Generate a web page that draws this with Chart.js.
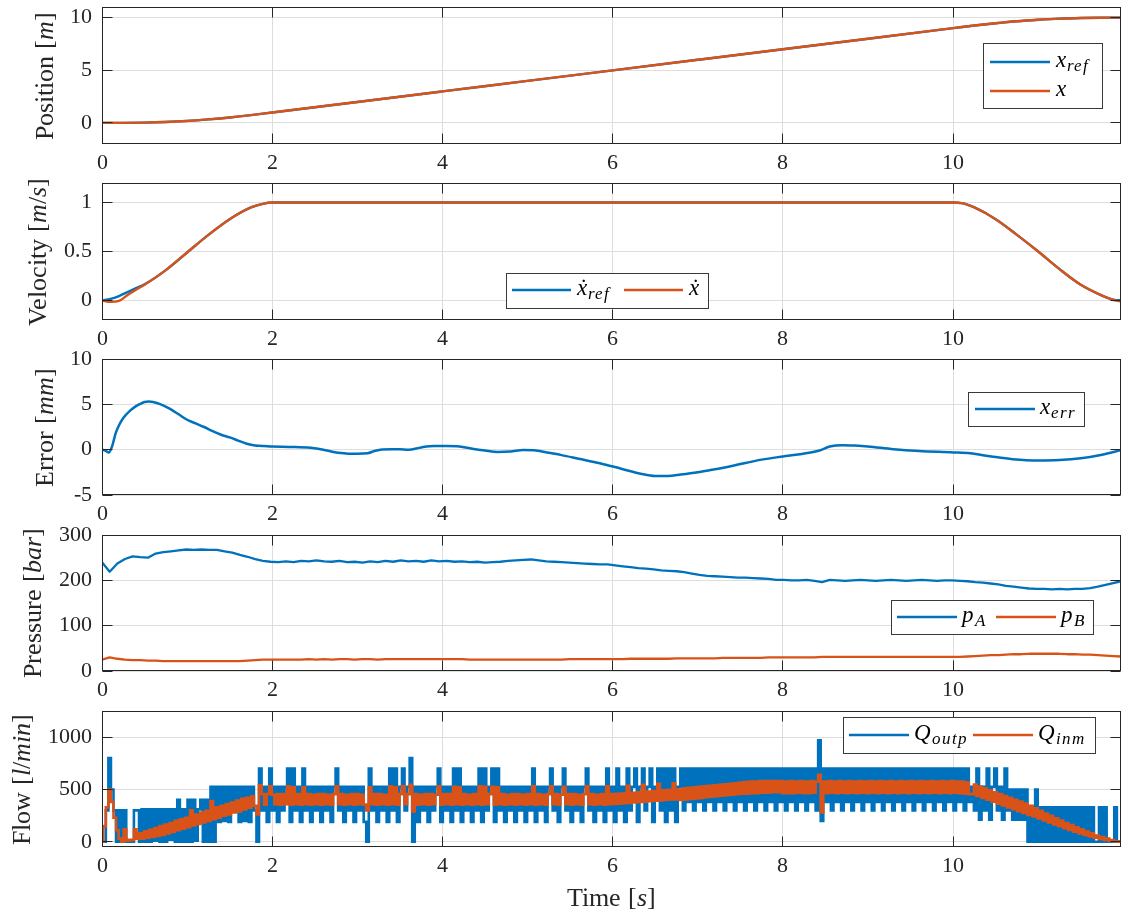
<!DOCTYPE html>
<html>
<head>
<meta charset="utf-8">
<title>Trajectory tracking: position, velocity, error, pressure, flow</title>
<script src="https://cdn.jsdelivr.net/npm/chart.js@4.4.1/dist/chart.umd.min.js"></script>
<style>
  @font-face { font-family: 'PlotSerif'; font-style: normal; font-weight: 400;
    src: local('Liberation Serif'), local('LiberationSerif'), local('Liberation Serif Regular'); }
  @font-face { font-family: 'PlotSerif'; font-style: italic; font-weight: 400;
    src: local('Liberation Serif Italic'), local('LiberationSerif-Italic'); }
  html, body { margin: 0; padding: 0; background: #ffffff; }
  #wrap { position: relative; width: 1122px; height: 915px; overflow: hidden; background: #ffffff;
          font-family: 'PlotSerif', 'Liberation Serif', serif; }
  #wrap canvas { position: absolute; left: 0; top: 0; }
  .warm { position: absolute; left: -1000px; top: 0; font-size: 22px; }
</style>
</head>
<body>
<div id="wrap">
  <span class="warm">0123456789 Position</span><span class="warm"><i>xrefQ</i></span>
  <canvas id="cPos" width="1122" height="915"></canvas>
  <canvas id="cVel" width="1122" height="915"></canvas>
  <canvas id="cErr" width="1122" height="915"></canvas>
  <canvas id="cPres" width="1122" height="915"></canvas>
  <canvas id="cFlow" width="1122" height="915"></canvas>
</div>
<script>
// ---------------- data ----------------
const tEnd = 11.97;                       // last sample time [s]
const xTicks = [0, 2, 4, 6, 8, 10];

// Position [m]
const tPos    = [0, 0.25, 0.5, 0.75, 1, 1.25, 1.5, 1.75, 2, 3, 4, 5, 6, 7, 8, 9, 10, 10.25, 10.5, 10.75, 11, 11.25, 11.5, 11.75, 11.97];
const posRef  = [0, 0.005, 0.03, 0.09, 0.19, 0.34, 0.52, 0.74, 0.99, 1.99, 2.99, 3.99, 4.99, 5.99, 6.99, 7.99, 8.99, 9.24, 9.46, 9.65, 9.79, 9.90, 9.96, 9.985, 9.99];
const posMeas = [0, 0.004, 0.027, 0.086, 0.186, 0.337, 0.518, 0.739, 0.99, 1.99, 2.99, 3.99, 4.99, 5.99, 6.99, 7.99, 8.99, 9.24, 9.46, 9.65, 9.79, 9.90, 9.96, 9.985, 9.99];
const posTicks = [0, 5, 10];

// Velocity [m/s]
const tVel    = [0, 0.1, 0.2, 0.3, 0.4, 0.5, 0.75, 1.0, 1.25, 1.5, 1.75, 1.9, 2.0, 4.0, 6.0, 8.0, 10.0, 10.1, 10.25, 10.5, 10.75, 11.0, 11.25, 11.5, 11.75, 11.9, 11.97];
const velRef  = [0, 0.015, 0.045, 0.085, 0.125, 0.165, 0.31, 0.49, 0.67, 0.83, 0.95, 0.99, 1, 1, 1, 1, 1, 0.995, 0.95, 0.83, 0.67, 0.5, 0.32, 0.16, 0.05, 0.005, 0];
const velMeas = [0, -0.015, -0.005, 0.055, 0.11, 0.16, 0.31, 0.49, 0.67, 0.83, 0.95, 0.99, 1, 1, 1, 1, 1, 0.995, 0.95, 0.83, 0.67, 0.5, 0.32, 0.16, 0.05, 0.0, -0.01];
const velTicks = [0, 0.5, 1];

// Tracking error [mm]
const tErr   = [0, 0.04, 0.08, 0.12, 0.16, 0.2, 0.25, 0.33, 0.4, 0.45, 0.5, 0.55, 0.6, 0.69, 0.8, 0.9, 1.0, 1.1, 1.2, 1.3,
                1.4, 1.5, 1.6, 1.7, 1.8, 1.85, 1.9, 2.0, 2.2, 2.45, 2.6, 2.72, 2.85, 2.92, 3.0, 3.12, 3.2, 3.27, 3.4, 3.5,
                3.6, 3.75, 3.9, 4.05, 4.2, 4.35, 4.5, 4.65, 4.8, 4.95, 5.1, 5.25, 5.4, 5.6, 5.85, 6.1, 6.33, 6.5, 6.65, 6.8,
                7.0, 7.15, 7.4, 7.75, 8.0, 8.2, 8.43, 8.55, 8.7, 8.85, 9.0, 9.3, 9.6, 10.0, 10.2, 10.45, 10.7, 11.0, 11.25, 11.5,
                11.75, 11.97];
const errVal = [0, -0.1, -0.3, 0.4, 1.8, 2.7, 3.5, 4.3, 4.8, 5.05, 5.25, 5.3, 5.25, 5.0, 4.5, 3.9, 3.3, 2.9, 2.5, 2.05,
                1.65, 1.35, 1.0, 0.65, 0.45, 0.42, 0.4, 0.35, 0.3, 0.2, 0.0, -0.25, -0.4, -0.45, -0.45, -0.4, -0.15, 0.0, 0.05, 0.05,
                0.0, 0.25, 0.4, 0.4, 0.35, 0.1, -0.1, -0.25, -0.2, -0.05, -0.1, -0.35, -0.6, -1.0, -1.5, -2.1, -2.65, -2.9, -2.9, -2.75,
                -2.5, -2.25, -1.8, -1.1, -0.75, -0.5, -0.1, 0.35, 0.5, 0.45, 0.35, 0.05, -0.15, -0.3, -0.4, -0.75, -1.05, -1.2, -1.15, -0.95,
                -0.55, -0.05];
const errTicks = [-5, 0, 5, 10];

// Chamber pressures [bar], sampled every presDt seconds
const presDt = 0.09;
const pA = [240, 219, 237, 247, 253, 251, 250, 259, 262, 264,
            266, 268, 267, 268, 267, 267, 264, 261, 256, 252,
            247, 243, 241, 240, 242, 240, 243, 242, 244, 242,
            241, 243, 240, 241, 239, 242, 240, 243, 241, 244,
            242, 243, 241, 244, 242, 243, 241, 242, 240, 241,
            239, 240, 241, 243, 244, 245, 246, 244, 242, 241,
            240, 239, 238, 237, 236, 235, 235, 233, 231, 229,
            227, 226, 224, 222, 221, 220, 218, 215, 212, 210,
            209, 208, 207, 206, 206, 205, 204, 203, 201, 201,
            200, 200, 201, 199, 196, 201, 200, 199, 200, 201,
            200, 199, 200, 201, 200, 199, 200, 201, 200, 199,
            200, 200, 199, 198, 196, 195, 193, 191, 188, 186,
            184, 182, 181, 181, 180, 181, 180, 181, 181, 183,
            186, 190, 194, 198];
const pB = [25, 30, 27, 25, 24, 24, 23, 23, 22, 22,
            22, 22, 22, 22, 22, 22, 22, 22, 22, 23,
            24, 25, 25, 25, 25, 25, 25, 26, 25, 26,
            25, 26, 26, 25, 26, 26, 25, 26, 26, 26,
            26, 26, 26, 26, 26, 26, 26, 26, 25, 25,
            25, 25, 25, 25, 25, 25, 25, 25, 25, 25,
            25, 26, 26, 26, 26, 26, 26, 26, 26, 27,
            27, 27, 27, 27, 27, 28, 28, 28, 28, 28,
            28, 29, 29, 29, 29, 29, 29, 30, 30, 30,
            30, 30, 30, 30, 31, 31, 31, 31, 31, 31,
            31, 31, 31, 31, 31, 31, 31, 31, 31, 31,
            31, 31, 31, 32, 33, 34, 35, 35, 36, 37,
            37, 38, 38, 38, 38, 38, 37, 37, 36, 36,
            35, 34, 33, 32];
const presTicks = [0, 100, 200, 300];

// Valve flows [l/min], sampled every flowDt seconds
const flowDt = 0.03;
const qOutp = [
  0, 0, 300, 800, 500, 300, 0, 300, 0, 300,
  0, 0, 0, 300, 300, 0, 310, 0, 310, 0,
  310, 10, 310, 0, 310, 0, 310, 20, 310, 0,
  400, 0, 310, 0, 400, 0, 400, 10, 310, 400,
  0, 400, 0, 525, 0, 525, 190, 525, 200, 525,
  190, 525, 300, 525, 190, 525, 200, 525, 190, 525,
  300, 0, 700, 300, 525, 190, 700, 300, 525, 190,
  525, 300, 525, 700, 190, 700, 300, 525, 190, 700,
  300, 525, 190, 525, 300, 525, 190, 525, 300, 525,
  190, 525, 700, 300, 525, 190, 525, 300, 525, 190,
  525, 300, 525, 190, 0, 700, 300, 525, 190, 525,
  300, 525, 190, 700, 300, 700, 190, 525, 700, 300,
  525, 800, 0, 525, 190, 525, 300, 525, 190, 525,
  300, 525, 700, 190, 525, 300, 525, 190, 700, 300,
  700, 190, 525, 300, 525, 190, 525, 300, 700, 190,
  700, 300, 525, 700, 190, 700, 300, 525, 190, 525,
  300, 525, 190, 525, 300, 525, 190, 525, 300, 700,
  190, 525, 300, 525, 190, 525, 700, 300, 525, 190,
  525, 700, 300, 525, 190, 525, 300, 525, 190, 525,
  700, 300, 525, 190, 525, 300, 525, 190, 700, 300,
  525, 190, 700, 300, 525, 190, 700, 300, 525, 700,
  190, 525, 700, 300, 525, 700, 190, 525, 700, 300,
  700, 190, 700, 300, 700, 190, 525, 700, 300, 700,
  380, 700, 300, 700, 380, 700, 300, 700, 380, 700,
  300, 700, 380, 700, 300, 700, 380, 700, 300, 700,
  380, 700, 300, 700, 380, 700, 300, 700, 380, 700,
  300, 700, 380, 700, 300, 700, 380, 700, 300, 700,
  380, 700, 300, 700, 380, 700, 300, 700, 380, 700,
  300, 970, 200, 700, 380, 700, 300, 700, 380, 700,
  300, 700, 380, 700, 300, 700, 380, 700, 300, 700,
  380, 700, 300, 700, 380, 700, 300, 700, 380, 700,
  300, 700, 380, 700, 300, 700, 380, 700, 300, 700,
  380, 700, 300, 700, 380, 700, 300, 700, 380, 700,
  300, 700, 380, 700, 300, 700, 380, 700, 300, 700,
  380, 525, 300, 700, 210, 525, 300, 700, 210, 525,
  700, 300, 525, 210, 700, 300, 500, 210, 500, 210,
  500, 210, 500, 0, 330, 0, 500, 0, 330, 0,
  330, 0, 330, 0, 330, 0, 330, 0, 330, 0,
  330, 0, 330, 0, 330, 0, 330, 0, 330, 0,
  0, 330, 0, 330, 0, 0, 0, 330, 0, 0];
const qInm = [
  0, 150, 330, 500, 380, 230, 110, 30, 0, 120,
  10, 20, 15, 120, 30, 80, 30, 100, 40, 115,
  45, 130, 55, 150, 65, 165, 80, 180, 95, 200,
  110, 215, 125, 230, 140, 300, 155, 260, 170, 280,
  185, 295, 200, 390, 215, 330, 230, 345, 250, 360,
  260, 375, 280, 395, 290, 410, 310, 420, 325, 435,
  345, 260, 540, 455, 355, 455, 530, 450, 360, 455,
  355, 455, 360, 530, 355, 520, 360, 455, 355, 520,
  360, 455, 355, 450, 360, 455, 355, 455, 360, 450,
  355, 455, 530, 360, 455, 355, 450, 360, 455, 355,
  455, 360, 450, 355, 300, 520, 360, 455, 355, 455,
  360, 450, 355, 530, 360, 520, 355, 455, 530, 360,
  455, 545, 290, 455, 355, 450, 360, 455, 355, 455,
  360, 450, 530, 355, 455, 360, 455, 355, 525, 360,
  520, 355, 455, 360, 450, 355, 455, 360, 530, 355,
  525, 360, 455, 525, 355, 520, 360, 455, 355, 450,
  360, 455, 355, 455, 360, 450, 355, 455, 360, 530,
  355, 455, 360, 450, 355, 455, 530, 360, 455, 355,
  450, 525, 360, 455, 355, 455, 360, 450, 355, 455,
  530, 360, 455, 355, 450, 360, 455, 355, 530, 360,
  455, 362, 458, 365, 460, 368, 535, 372, 468, 376,
  472, 380, 545, 384, 480, 388, 484, 392, 555, 396,
  492, 400, 496, 404, 560, 405, 500, 400, 510, 405,
  515, 410, 520, 415, 525, 420, 530, 425, 535, 430,
  540, 435, 545, 440, 550, 445, 555, 450, 560, 455,
  565, 460, 570, 460, 575, 465, 575, 465, 580, 470,
  580, 470, 580, 475, 580, 475, 580, 465, 575, 465,
  580, 465, 575, 470, 580, 465, 575, 465, 580, 470,
  575, 640, 280, 575, 465, 580, 470, 575, 465, 580,
  470, 575, 465, 580, 470, 575, 465, 580, 470, 575,
  465, 580, 470, 575, 465, 580, 470, 575, 465, 580,
  470, 575, 465, 580, 470, 575, 465, 580, 470, 575,
  465, 580, 470, 575, 465, 580, 470, 575, 465, 580,
  470, 575, 465, 580, 470, 575, 465, 575, 460, 565,
  455, 455, 546, 437, 528, 419, 510, 401, 492, 383,
  474, 365, 456, 347, 438, 329, 420, 311, 402, 293,
  384, 275, 366, 257, 343, 242, 320, 223, 295, 203,
  270, 185, 248, 166, 225, 148, 203, 130, 180, 114,
  159, 97, 138, 80, 118, 65, 98, 51, 80, 38,
  60, 27, 45, 17, 30, 8, 17, 2, 5, 0];
const flowTicks = [0, 500, 1000];

// ---------------- styling ----------------
const FONT = "PlotSerif, 'Liberation Serif', 'DejaVu Serif', serif";
const INK = '#262626';
const GRID = '#dedede';
const BLUE = '#0072BD';
const ORANGE = '#D95319';
const CANVAS_H = 915;
const X_AXIS_H = 40;

Chart.defaults.font.family = FONT;
Chart.defaults.color = INK;

function pts(ts, vs) { return vs.map((v, i) => ({ x: ts[i], y: v })); }
function sampled(dt, vs) { return vs.map((v, i) => ({ x: Math.round(i * dt * 1000) / 1000, y: v })); }

// rich text runs: [{t, it, size, dy, ls, gap}]
function setFont(ctx, size, italic) { ctx.font = (italic ? 'italic ' : '') + size + 'px ' + FONT; }
function runWidth(ctx, parts) {
  let w = 0;
  for (const p of parts) {
    setFont(ctx, p.size, p.it);
    ctx.letterSpacing = (p.ls || 0) + 'px';
    w += ctx.measureText(p.t).width + (p.gap || 0);
  }
  ctx.letterSpacing = '0px';
  return w;
}
function drawRun(ctx, parts, x, y) {
  let cx = x;
  for (const p of parts) {
    setFont(ctx, p.size, p.it);
    ctx.letterSpacing = (p.ls || 0) + 'px';
    ctx.fillText(p.t, cx, y + (p.dy || 0));
    cx += ctx.measureText(p.t).width + (p.gap || 0);
  }
  ctx.letterSpacing = '0px';
  return cx - x;
}
const LBL = 26;
function axisTitle(...segs) {
  // odd-indexed pieces are math italic
  return segs.map((s, i) => ({ t: s, it: i % 2 === 1, size: LBL }));
}
function mathSym(base, sub) {
  const parts = [{ t: base, it: true, size: 23, gap: 1 }];
  if (sub) parts.push({ t: sub, it: true, size: 17, dy: 4, ls: 1 });
  return parts;
}

function alignPx(v) { return Math.round(v - 0.5) + 0.5; }

// boxed axes with inward ticks, axis titles and legend
const framePlugin = {
  id: 'frame',
  afterDraw(chart, args, o) {
    const ctx = chart.ctx;
    const a = chart.chartArea;
    const xs = chart.scales.x, ys = chart.scales.y;
    const L = Math.floor(a.left) + 0.5, R = Math.ceil(a.right) - 0.5;
    const T = Math.floor(a.top) + 0.5, B = Math.ceil(a.bottom) - 0.5;
    ctx.save();
    ctx.strokeStyle = INK;
    ctx.lineWidth = 1;
    ctx.beginPath();
    for (const t of xs.ticks) {
      const px = alignPx(xs.getPixelForValue(t.value));
      ctx.moveTo(px, B); ctx.lineTo(px, B - 10);
      ctx.moveTo(px, T); ctx.lineTo(px, T + 10);
    }
    for (const t of ys.ticks) {
      const py = alignPx(ys.getPixelForValue(t.value));
      ctx.moveTo(L, py); ctx.lineTo(L + 10, py);
      ctx.moveTo(R, py); ctx.lineTo(R - 10, py);
    }
    ctx.stroke();
    ctx.strokeRect(L, T, R - L, B - T);

    ctx.fillStyle = INK;
    ctx.textBaseline = 'alphabetic';
    ctx.textAlign = 'left';

    if (o.yTitle) {
      ctx.save();
      ctx.translate(o.yTitleX, (a.top + a.bottom) / 2);
      ctx.rotate(-Math.PI / 2);
      const w = runWidth(ctx, o.yTitle);
      drawRun(ctx, o.yTitle, -w / 2, 0);
      ctx.restore();
    }
    if (o.xTitle) {
      const w = runWidth(ctx, o.xTitle);
      drawRun(ctx, o.xTitle, (a.left + a.right) / 2 - w / 2, o.xTitleY);
    }
    if (o.legend) {
      const lg = o.legend;
      ctx.fillStyle = '#ffffff';
      ctx.fillRect(lg.x, lg.y, lg.w, lg.h);
      ctx.strokeStyle = '#3a3a3a';
      ctx.lineWidth = 1;
      ctx.strokeRect(lg.x + 0.5, lg.y + 0.5, lg.w, lg.h);
      for (const e of lg.items) {
        ctx.strokeStyle = e.color;
        ctx.lineWidth = 2.5;
        ctx.beginPath();
        ctx.moveTo(e.x0, e.y); ctx.lineTo(e.x1, e.y);
        ctx.stroke();
        ctx.fillStyle = '#000000';
        drawRun(ctx, e.label, e.tx, e.y + 5);
      }
    }
    ctx.restore();
  }
};

function makePanel(p) {
  const canvas = document.getElementById(p.id);
  return new Chart(canvas, {
    type: 'line',
    data: {
      datasets: p.series.map((s, k) => ({
        data: s.data,
        borderColor: s.color,
        backgroundColor: s.color,
        borderWidth: s.width || 2.4,
        pointRadius: 0,
        fill: false,
        tension: 0,
        stepped: s.stepped || false,
        cubicInterpolationMode: s.smooth ? 'monotone' : 'default',
        borderJoinStyle: s.stepped ? 'miter' : 'round',
        borderCapStyle: 'butt',
        order: p.series.length - k
      }))
    },
    options: {
      responsive: false,
      animation: false,
      devicePixelRatio: 1,
      events: [],
      layout: { padding: { left: 0, right: 1, top: p.top, bottom: CANVAS_H - p.bottom - X_AXIS_H } },
      plugins: {
        legend: { display: false },
        tooltip: { enabled: false },
        frame: p.frame
      },
      scales: {
        x: {
          type: 'linear', position: 'bottom', min: 0, max: tEnd,
          afterBuildTicks: s => { s.ticks = xTicks.map(v => ({ value: v })); },
          afterFit: s => { s.height = X_AXIS_H; s.paddingLeft = 0; s.paddingRight = 0; s.paddingTop = 0; s.paddingBottom = 0; },
          grid: { color: GRID, lineWidth: 1, drawTicks: false },
          border: { display: false },
          ticks: { autoSkip: false, maxRotation: 0, padding: 6, color: INK, font: { family: FONT, size: 22 }, callback: v => String(v) }
        },
        y: {
          type: 'linear', position: 'left', min: p.yMin, max: p.yMax,
          afterBuildTicks: s => { s.ticks = p.yTicks.map(v => ({ value: v })); },
          afterFit: s => { s.width = 102; s.paddingLeft = 0; s.paddingRight = 0; s.paddingTop = 0; s.paddingBottom = 0; },
          grid: { color: GRID, lineWidth: 1, drawTicks: false },
          border: { display: false },
          ticks: { autoSkip: false, padding: 10, color: INK, font: { family: FONT, size: 22 }, callback: v => String(v) }
        }
      }
    },
    plugins: [framePlugin]
  });
}

const panels = [
  {
    id: 'cPos', top: 7, bottom: 144, yMin: -2, yMax: 11, yTicks: posTicks,
    series: [
      { data: pts(tPos, posRef), color: BLUE, smooth: true },
      { data: pts(tPos, posMeas), color: ORANGE, smooth: true }
    ],
    frame: {
      yTitle: axisTitle('Position [', 'm', ']'), yTitleX: 53,
      legend: { x: 983, y: 43, w: 119, h: 65, items: [
        { color: BLUE, x0: 990, x1: 1050, y: 62, tx: 1056, label: mathSym('x', 'ref') },
        { color: ORANGE, x0: 990, x1: 1050, y: 91, tx: 1056, label: mathSym('x') }
      ] }
    }
  },
  {
    id: 'cVel', top: 183, bottom: 320, yMin: -0.2, yMax: 1.2, yTicks: velTicks,
    series: [
      { data: pts(tVel, velRef), color: BLUE, smooth: true },
      { data: pts(tVel, velMeas), color: ORANGE, smooth: true }
    ],
    frame: {
      yTitle: axisTitle('Velocity [', 'm', '/', 's', ']'), yTitleX: 46,
      legend: { x: 506, y: 273, w: 202, h: 35, items: [
        { color: BLUE, x0: 512, x1: 571, y: 290, tx: 577, label: mathSym('ẋ', 'ref') },
        { color: ORANGE, x0: 624, x1: 683, y: 290, tx: 689, label: mathSym('ẋ') }
      ] }
    }
  },
  {
    id: 'cErr', top: 359, bottom: 495, yMin: -5, yMax: 10, yTicks: errTicks,
    series: [
      { data: pts(tErr, errVal), color: BLUE, smooth: true, width: 2.5 }
    ],
    frame: {
      yTitle: axisTitle('Error [', 'mm', ']'), yTitleX: 53,
      legend: { x: 968, y: 392, w: 116, h: 34, items: [
        { color: BLUE, x0: 975, x1: 1035, y: 409, tx: 1040, label: mathSym('x', 'err') }
      ] }
    }
  },
  {
    id: 'cPres', top: 535, bottom: 671, yMin: 0, yMax: 300, yTicks: presTicks,
    series: [
      { data: sampled(presDt, pA), color: BLUE, width: 2.3 },
      { data: sampled(presDt, pB), color: ORANGE, width: 2.3 }
    ],
    frame: {
      yTitle: axisTitle('Pressure [', 'bar', ']'), yTitleX: 41,
      legend: { x: 891, y: 600, w: 202, h: 34, items: [
        { color: BLUE, x0: 897, x1: 957, y: 617, tx: 962, label: mathSym('p', 'A') },
        { color: ORANGE, x0: 996, x1: 1056, y: 617, tx: 1061, label: mathSym('p', 'B') }
      ] }
    }
  },
  {
    id: 'cFlow', top: 711, bottom: 847, yMin: -50, yMax: 1250, yTicks: flowTicks,
    series: [
      { data: sampled(flowDt, qOutp), color: BLUE, width: 2.6, stepped: 'middle' },
      { data: sampled(flowDt, qInm), color: ORANGE, width: 2.6, stepped: 'middle' }
    ],
    frame: {
      yTitle: axisTitle('Flow [', 'l', '/', 'min', ']'), yTitleX: 30,
      xTitle: axisTitle('Time [', 's', ']'), xTitleY: 906,
      legend: { x: 843, y: 717, w: 252, h: 36, items: [
        { color: BLUE, x0: 849, x1: 909, y: 735, tx: 914, label: mathSym('Q', 'outp') },
        { color: ORANGE, x0: 973, x1: 1033, y: 735, tx: 1038, label: mathSym('Q', 'inm') }
      ] }
    }
  }
];

// draw once the serif faces are available, then refresh in case they arrive late
const charts = [];
function build() { if (!charts.length) panels.forEach(p => charts.push(makePanel(p))); }
const faceLoads = [
  document.fonts.load("22px PlotSerif"),
  document.fonts.load("italic 22px PlotSerif"),
  document.fonts.load("22px 'Liberation Serif'"),
  document.fonts.load("italic 22px 'Liberation Serif'")
];
Promise.all(faceLoads).catch(() => null).then(() => {
  build();
  document.fonts.ready.then(() => charts.forEach(c => c.update('none')));
});
setTimeout(build, 400);
</script>
</body>
</html>
